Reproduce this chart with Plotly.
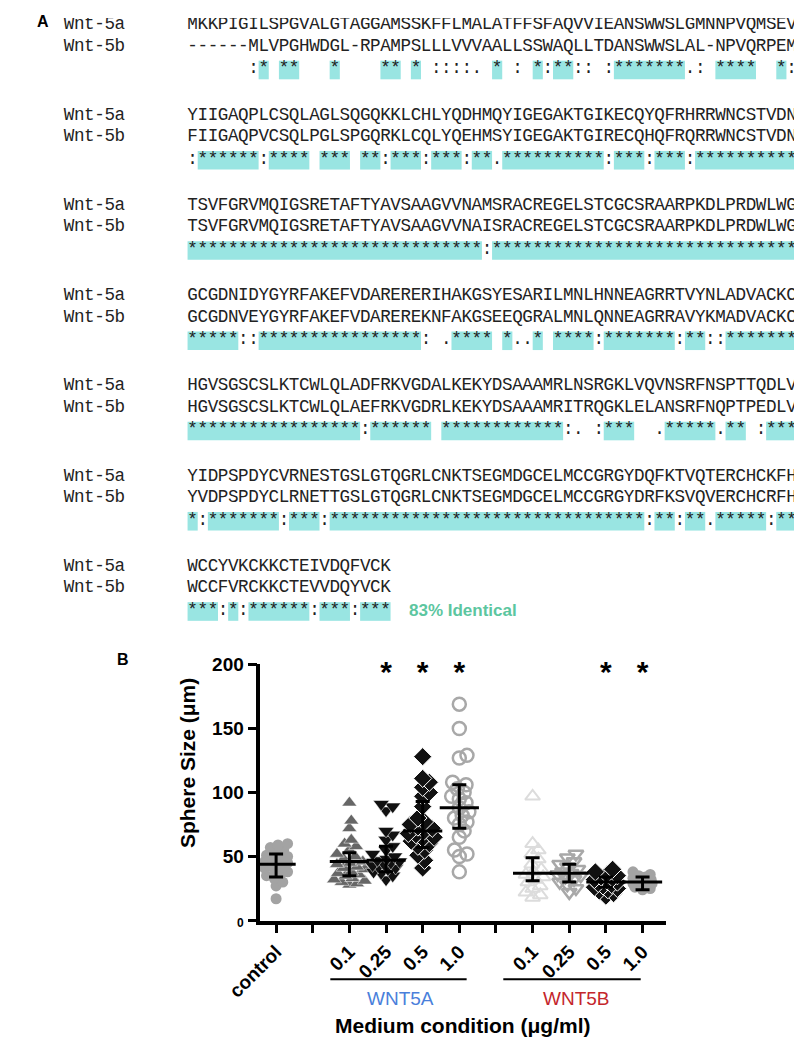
import plotly.graph_objects as go

W, H = 802, 1052

# ---- panel A: Wnt-5a / Wnt-5b alignment (one entry per block)
LABEL_5A = "Wnt-5a"
LABEL_5B = "Wnt-5b"
SEQ_5A = [
    "MKKPIGILSPGVALGTAGGAMSSKFFLMALATFFSFAQVVIEANSWWSLGMNNPVQMSEV",
    "YIIGAQPLCSQLAGLSQGQKKLCHLYQDHMQYIGEGAKTGIKECQYQFRHRRWNCSTVDN",
    "TSVFGRVMQIGSRETAFTYAVSAAGVVNAMSRACREGELSTCGCSRAARPKDLPRDWLWG",
    "GCGDNIDYGYRFAKEFVDARERERIHAKGSYESARILMNLHNNEAGRRTVYNLADVACKC",
    "HGVSGSCSLKTCWLQLADFRKVGDALKEKYDSAAAMRLNSRGKLVQVNSRFNSPTTQDLV",
    "YIDPSPDYCVRNESTGSLGTQGRLCNKTSEGMDGCELMCCGRGYDQFKTVQTERCHCKFH",
    "WCCYVKCKKCTEIVDQFVCK",
]
SEQ_5B = [
    "------MLVPGHWDGL-RPAMPSLLLVVVAALLSSWAQLLTDANSWWSLAL-NPVQRPEM",
    "FIIGAQPVCSQLPGLSPGQRKLCQLYQEHMSYIGEGAKTGIRECQHQFRQRRWNCSTVDN",
    "TSVFGRVMQIGSRETAFTYAVSAAGVVNAISRACREGELSTCGCSRAARPKDLPRDWLWG",
    "GCGDNVEYGYRFAKEFVDAREREKNFAKGSEEQGRALMNLQNNEAGRRAVYKMADVACKC",
    "HGVSGSCSLKTCWLQLAEFRKVGDRLKEKYDSAAAMRITRQGKLELANSRFNQPTPEDLV",
    "YVDPSPDYCLRNETTGSLGTQGRLCNKTSEGMDGCELMCCGRGYDRFKSVQVERCHCRFH",
    "WCCFVRCKKCTEVVDQYVCK",
]
CONS = [
    "      :* **   *    ** * ::::. * : *:**:: :*******.: ****  *:",
    ":******:**** *** **:***:***:**.**********:***:***:**********",
    "**********" "**********" "*********" ":" "**********" "**********" "**********",
    "*****::****************: .**** *..* ****:*******:**::*******",
    "*****************:****** ************:. :***  .*****.** :***",
    "*:*******:***:" "**********" "**********" "**********" "*" ":**:**.*****:**",
    "***:*:******:***:***",
]
IDENTITY = "83% Identical"

# ---- panel B: sphere size (um) per medium condition
CATEGORIES = ["control", "", "0.1", "0.25", "0.5", "1.0", "", "0.1", "0.25", "0.5", "1.0"]
GROUP_X = [0, 2, 3, 4, 5, 7, 8, 9, 10]
control = [17, 27, 30, 33, 35, 37, 38, 40, 41, 42, 43, 44, 45, 46, 47, 48, 50, 51, 53, 55, 57, 59, 60]
wnt5a_01 = [28, 29, 30, 31, 32, 33, 35, 36, 37, 38, 40, 41, 42, 44, 45, 46, 48, 50, 52, 55, 58, 60, 63, 72, 78, 92]
wnt5a_025 = [32, 35, 37, 38, 40, 41, 42, 43, 44, 45, 46, 47, 48, 50, 52, 55, 58, 63, 67, 70, 86, 89, 91]
wnt5a_05 = [41, 47, 51, 55, 58, 60, 62, 64, 65, 67, 68, 70, 72, 73, 75, 77, 80, 89, 97, 100, 104, 108, 111, 128]
wnt5a_10 = [38, 50, 52, 55, 65, 70, 75, 77, 80, 82, 85, 88, 92, 95, 97, 100, 103, 106, 108, 127, 129, 150, 169]
wnt5b_01 = [18, 20, 22, 25, 27, 30, 32, 34, 36, 38, 40, 44, 48, 52, 55, 60, 97]
wnt5b_025 = [22, 25, 28, 30, 32, 34, 35, 36, 37, 38, 40, 42, 44, 46, 49, 52]
wnt5b_05 = [19, 21, 23, 24, 25, 26, 27, 28, 29, 30, 31, 32, 33, 34, 35, 36, 38, 40]
wnt5b_10 = [24, 25, 26, 27, 28, 29, 29, 30, 30, 31, 31, 32, 33, 34, 35, 36, 38]
MEANS = [44, 46, 47, 70, 88, 37, 37, 30, 30]
LOWS = [34, 35, 38, 57, 72, 31, 30, 26, 24]
HIGHS = [52, 53, 58, 93, 106, 49, 44, 34, 34]
SIGNIF = [False, False, True, True, True, False, False, True, True]
GROUP_LABELS = ["WNT5A", "WNT5B"]

groups = [control, wnt5a_01, wnt5a_025, wnt5a_05, wnt5a_10, wnt5b_01, wnt5b_025, wnt5b_05, wnt5b_10]
styles = [
    dict(symbol="circle", size=11, color="#a3a3a3"),
    dict(symbol="triangle-up", size=13, color="#666666", line=dict(width=0.5, color="white")),
    dict(symbol="triangle-down", size=14, color="#111111", line=dict(width=0.5, color="white")),
    dict(symbol="diamond", size=14, color="#111111", line=dict(width=1, color="white")),
    dict(symbol="circle-open", size=13, color="#a8a8a8", line=dict(width=2.5)),
    dict(symbol="triangle-up-open", size=13, color="#dcdcdc", line=dict(width=2)),
    dict(symbol="triangle-down-open", size=13, color="#a8a8a8", line=dict(width=2.5)),
    dict(symbol="diamond", size=14, color="#111111", line=dict(width=1, color="white")),
    dict(symbol="circle", size=11, color="#a3a3a3"),
]
# half-width (px) allowed for each swarm
spread = [12, 16, 14, 16, 14, 14, 12, 12, 10]

# layout constants, in page pixels (the page body adds an 8px offset)
OFF = 8
X0, CW, LX = 160.0, 10.6, 31.0
Y0, BLOCK, ROW, CONS_DY = 15.0, 92.0, 22.0, 45.0
BOX_H, BOX_DY = 19.0, 1.0
BOX_COLOR = "#99e5e2"
MONO = dict(family="Courier New, Nimbus Mono PS, FreeMono, Liberation Mono", size=17.6, color="#222222")
SANS = "Liberation Sans"

PB_LEFT, PB_RIGHT, PB_TOP, PB_BOTTOM = 236, 660, 667, 928
XR = [-0.43, 10.65]
PX_X = (PB_RIGHT - PB_LEFT) / (XR[1] - XR[0])
PX_Y = (PB_BOTTOM - PB_TOP) / 200.0


def swarm(vals, half, d=8.0):
    placed, offs = [], []
    for v in vals:
        yv = v * PX_Y
        best, best_score = 0.0, -1.0
        for j in range(2 * half + 1):
            c = ((j + 1) // 2) * (1 if j % 2 else -1) * 1.0
            score = min([(c - px) ** 2 + (yv - py) ** 2 for px, py in placed] or [1e9])
            if score >= d * d:
                best = c
                break
            if score > best_score:
                best, best_score = c, score
        placed.append((best, yv))
        offs.append(best / PX_X)
    return offs


fig = go.Figure()

# ---- panel A
shapes = []
xs, ys, ts = [], [], []
for b in range(len(CONS)):
    yb = Y0 + b * BLOCK
    rows = [(LABEL_5A, SEQ_5A[b], yb), (LABEL_5B, SEQ_5B[b], yb + ROW), ("", CONS[b], yb + CONS_DY)]
    for label, line, y in rows:
        for k, ch in enumerate(label):
            xs.append(LX + CW * (k + 0.5)); ys.append(y); ts.append(ch)
        for k, ch in enumerate(line):
            if ch != " ":
                xs.append(X0 + CW * (k + 0.5)); ys.append(y); ts.append(ch)
    cons = CONS[b]
    yc = yb + CONS_DY + BOX_DY
    i = 0
    while i < len(cons):
        if cons[i] == "*":
            j = i
            while j + 1 < len(cons) and cons[j + 1] == "*":
                j += 1
            shapes.append(dict(type="rect", xref="x", yref="y", x0=X0 + CW * i, x1=X0 + CW * (j + 1),
                               y0=yc - BOX_H / 2, y1=yc + BOX_H / 2,
                               fillcolor=BOX_COLOR, line_width=0, layer="below"))
            i = j + 1
        else:
            i += 1

fig.add_trace(go.Scatter(x=xs, y=ys, text=ts, mode="text", textposition="middle center",
                         textfont=MONO, hoverinfo="skip", xaxis="x", yaxis="y"))

# ---- panel B
for g, vals in enumerate(groups):
    offs = swarm(vals, spread[g])
    fig.add_trace(go.Scatter(x=[GROUP_X[g] + o for o in offs], y=vals, mode="markers",
                             marker=styles[g], xaxis="x2", yaxis="y2", cliponaxis=False,
                             hoverinfo="skip"))

fig.add_trace(go.Scatter(
    x=GROUP_X, y=MEANS, mode="markers", xaxis="x2", yaxis="y2", cliponaxis=False,
    marker=dict(symbol="line-ew", size=28, color="black", line=dict(width=3, color="black")),
    error_y=dict(type="data", symmetric=False,
                 array=[h - m for h, m in zip(HIGHS, MEANS)],
                 arrayminus=[m - l for m, l in zip(MEANS, LOWS)],
                 width=7, thickness=3, color="black"),
))

sig_x = [GROUP_X[g] for g in range(len(GROUP_X)) if SIGNIF[g]]
fig.add_trace(go.Scatter(x=sig_x, y=[192] * len(sig_x), text=["*"] * len(sig_x), mode="text",
                         textposition="middle center", xaxis="x2", yaxis="y2", cliponaxis=False,
                         textfont=dict(family=SANS, size=30, color="black", weight="bold")))

# group underlines
for x0, x1 in [(1.48, 5.2), (6.2, 9.95)]:
    shapes.append(dict(type="line", xref="x2", yref="y", x0=x0, x1=x1, y0=988, y1=988,
                       line=dict(color="black", width=2)))

annotations = [
    dict(text="<b>A</b>", x=9, y=12, xref="x", yref="y", showarrow=False,
         font=dict(family=SANS, size=16, color="black")),
    dict(text="<b>B</b>", x=93, y=662, xref="x", yref="y", showarrow=False,
         font=dict(family=SANS, size=16, color="black")),
    dict(text="<b>%s</b>" % IDENTITY, x=389, y=Y0 + 6 * BLOCK + CONS_DY, xref="x", yref="y",
         xanchor="left", showarrow=False, font=dict(family=SANS, size=17, color="#5cc6a0")),
    dict(text=GROUP_LABELS[0], x=3.4, y=1007, xref="x2", yref="y", showarrow=False,
         font=dict(family=SANS, size=19, color="#4a7fdb")),
    dict(text=GROUP_LABELS[1], x=8.2, y=1007, xref="x2", yref="y", showarrow=False,
         font=dict(family=SANS, size=19, color="#c4262c")),
    dict(text="<b>Medium condition (\u03bcg/ml)</b>", x=448, y=1035, xref="x", yref="y",
         showarrow=False, font=dict(family=SANS, size=21, color="black")),
    dict(text="<b>Sphere Size (\u03bcm)</b>", x=160, y=768, xref="x", yref="y", textangle=-90,
         showarrow=False, font=dict(family=SANS, size=21, color="black")),
]

fig.update_layout(
    width=W, height=H, margin=dict(l=0, r=0, t=0, b=0),
    paper_bgcolor="white", plot_bgcolor="rgba(0,0,0,0)", showlegend=False,
    shapes=shapes, annotations=annotations,
    xaxis=dict(domain=[0, 1], range=[OFF, W + OFF], visible=False, fixedrange=True),
    yaxis=dict(domain=[0, 1], range=[H + OFF, OFF], visible=False, fixedrange=True),
    xaxis2=dict(domain=[(PB_LEFT - OFF) / W, (PB_RIGHT - OFF) / W], range=XR, anchor="y2",
                showline=True, linewidth=3.5, linecolor="black", showgrid=False, zeroline=False,
                ticks="outside", ticklen=9, tickwidth=3, tickcolor="black",
                tickmode="array", tickvals=list(range(len(CATEGORIES))), ticktext=CATEGORIES,
                tickangle=-45, tickfont=dict(family=SANS, size=19, color="black", weight="bold")),
    yaxis2=dict(domain=[1 - (PB_BOTTOM - OFF) / H, 1 - (PB_TOP - OFF) / H], range=[0, 200],
                anchor="x2",
                showline=True, linewidth=3.5, linecolor="black", showgrid=False, zeroline=False,
                ticks="outside", ticklen=9, tickwidth=3, tickcolor="black",
                tickmode="array", tickvals=[0, 50, 100, 150, 200],
                ticktext=["<span style='font-size:12px'>0</span>", "50", "100", "150", "200"],
                tickfont=dict(family=SANS, size=19, color="black", weight="bold")),
)

fig.write_html("out.html")
